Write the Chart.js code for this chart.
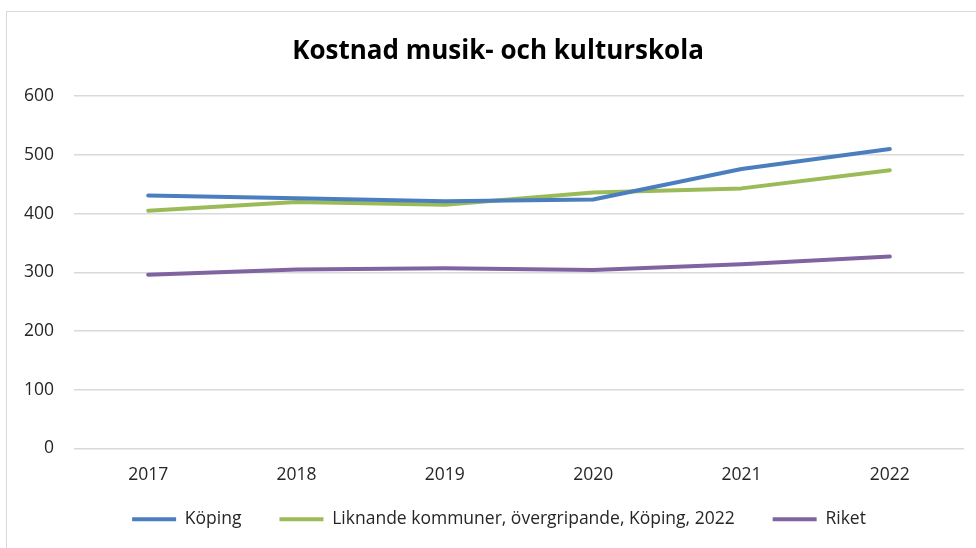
<!DOCTYPE html>
<html>
<head>
<meta charset="utf-8">
<script src="https://cdn.jsdelivr.net/npm/chart.js@4"></script>
<style>
  body { margin: 0; background: #fff; overflow: hidden; }
  #frame {
    position: absolute; left: 6px; top: 11px; width: 980px; height: 545px;
    border-left: 1px solid #d9d9d9; border-top: 1px solid #d9d9d9;
  }
  #wrap { position: absolute; left: 0; top: 0; width: 969px; height: 536px; }
</style>
</head>
<body>
<div id="frame"><div id="wrap"><canvas id="lineChart"></canvas></div></div>
<script>
const years = ["2017", "2018", "2019", "2020", "2021", "2022"];
const koping = [431, 426, 421, 424, 476, 510];
const liknande = [405, 420, 415, 436, 443, 474];
const riket = [296, 305, 307, 304, 314, 327];

const ctx = document.getElementById("lineChart");

function line(label, data, color) {
  return {
    label: label,
    data: data,
    borderColor: color,
    backgroundColor: color,
    borderWidth: 4,
    borderCapStyle: "round",
    borderJoinStyle: "round",
    pointRadius: 0,
    pointStyle: "line",
    tension: 0,
  };
}

// nudge legend and title: legend up under the years, both centred on the plot
const nudge = {
  id: "nudge",
  afterLayout(chart) {
    const lg = chart.legend;
    lg.top -= 14;
    lg.bottom -= 14;
    lg.left += 15;
    lg.right += 15;
    const tb = chart.titleBlock;
    tb.left += 14;
    tb.right += 14;
    tb.top += 1;
    tb.bottom += 1;
  },
};

new Chart(ctx, {
  type: "line",
  data: {
    labels: years,
    datasets: [
      line("Köping", koping, "#4a7ebf"),
      line("Liknande kommuner, övergripande, Köping, 2022", liknande, "#9bbb59"),
      line("Riket", riket, "#8064a2"),
    ],
  },
  options: {
    responsive: true,
    maintainAspectRatio: false,
    animation: false,
    layout: {
      padding: { left: -3, right: 12, top: 0, bottom: -4 },
    },
    scales: {
      x: {
        offset: true,
        grid: { display: false, drawTicks: false },
        border: { display: false },
        ticks: {
          color: "#262626",
          padding: 16,
          font: { family: "Open Sans", size: 17.5 },
        },
        afterFit: (scale) => {
          scale.height = 38;
        },
      },
      y: {
        min: 0,
        max: 600,
        ticks: {
          stepSize: 100,
          color: "#262626",
          padding: 20,
          font: { family: "Open Sans", size: 17.5 },
        },
        grid: {
          color: "#d9d9d9",
          lineWidth: 1.5,
          drawTicks: false,
        },
        border: { display: false },
      },
    },
    plugins: {
      title: {
        display: true,
        text: "Kostnad musik- och kulturskola",
        color: "#000",
        font: { family: "Open Sans", size: 26, weight: "bold" },
        padding: { top: 23, bottom: 30 },
      },
      legend: {
        position: "bottom",
        labels: {
          usePointStyle: true,
          pointStyleWidth: 44,
          boxHeight: 8,
          padding: 38,
          color: "#262626",
          font: { family: "Open Sans", size: 17.5 },
        },
      },
      tooltip: { enabled: false },
    },
  },
  plugins: [nudge],
});
</script>
</body>
</html>
